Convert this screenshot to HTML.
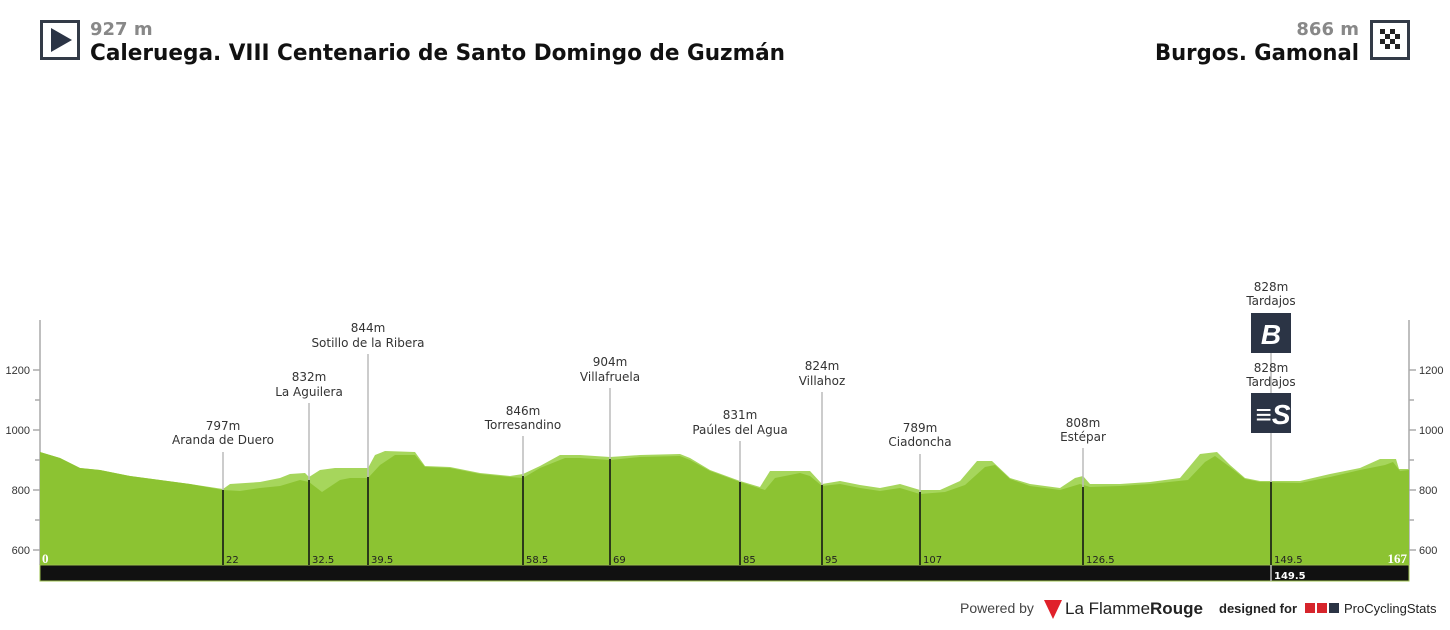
<!DOCTYPE html>
<html><head><meta charset="utf-8"><style>
body{margin:0;width:1450px;height:625px;background:#fff;overflow:hidden;font-family:"Liberation Sans",sans-serif}
</style></head><body>
<svg width="1450" height="625" xmlns="http://www.w3.org/2000/svg" font-family="Liberation Sans, sans-serif">
<!-- header -->
<rect x="41.5" y="21.5" width="37" height="37" fill="#fff" stroke="#333b47" stroke-width="3"/>
<polygon points="51,28 51,52 72,40" fill="#2b3445"/>
<text x="90" y="35" font-size="18" font-weight="bold" fill="#888" font-family="DejaVu Sans, sans-serif">927 m</text>
<text x="90" y="60" font-size="22" font-weight="bold" fill="#111" font-family="DejaVu Sans, sans-serif" textLength="695" lengthAdjust="spacingAndGlyphs">Caleruega. VIII Centenario de Santo Domingo de Guzmán</text>
<text x="1359" y="35" font-size="18" font-weight="bold" fill="#888" text-anchor="end" font-family="DejaVu Sans, sans-serif">866 m</text>
<text x="1155" y="60" font-size="22" font-weight="bold" fill="#111" font-family="DejaVu Sans, sans-serif" textLength="204" lengthAdjust="spacingAndGlyphs">Burgos. Gamonal</text>
<rect x="1371.5" y="21.5" width="37" height="37" fill="#fff" stroke="#333b47" stroke-width="3"/>
<g fill="#222">
<rect x="1380" y="29" width="5" height="5"/><rect x="1390" y="29" width="5" height="5"/>
<rect x="1385" y="34" width="5" height="5"/><rect x="1395" y="34" width="5" height="5"/>
<rect x="1380" y="39" width="5" height="5"/><rect x="1390" y="39" width="5" height="5"/>
<rect x="1385" y="44" width="5" height="5"/><rect x="1395" y="44" width="5" height="5"/>
</g>
<!-- axes -->
<g stroke="#aaa" stroke-width="1.5">
<line x1="40" y1="320" x2="40" y2="565"/><line x1="1409" y1="320" x2="1409" y2="565"/>
<line x1="33" y1="370" x2="40" y2="370"/><line x1="35" y1="400" x2="40" y2="400"/><line x1="33" y1="430" x2="40" y2="430"/><line x1="35" y1="460" x2="40" y2="460"/><line x1="33" y1="490" x2="40" y2="490"/><line x1="35" y1="520" x2="40" y2="520"/><line x1="33" y1="550" x2="40" y2="550"/>
<line x1="1409" y1="370" x2="1416" y2="370"/><line x1="1409" y1="400" x2="1414" y2="400"/><line x1="1409" y1="430" x2="1416" y2="430"/><line x1="1409" y1="460" x2="1414" y2="460"/><line x1="1409" y1="490" x2="1416" y2="490"/><line x1="1409" y1="520" x2="1414" y2="520"/><line x1="1409" y1="550" x2="1416" y2="550"/>
</g>
<g font-size="11" fill="#333">
<text x="30" y="374" text-anchor="end">1200</text><text x="30" y="434" text-anchor="end">1000</text><text x="30" y="494" text-anchor="end">800</text><text x="30" y="554" text-anchor="end">600</text>
<text x="1419" y="374">1200</text><text x="1419" y="434">1000</text><text x="1419" y="494">800</text><text x="1419" y="554">600</text>
</g>
<!-- profile -->
<polygon fill="#a6d65c" points="40,565 40,452 60,458 80,468 100,470 130,476 160,480 190,484 223,489 230,484 260,482 280,478 290,474 305,473 309,477 320,470 335,468 360,468 368,468 375,455 385,451 415,452 425,466 450,467 480,473 510,476 523,474 540,466 560,455 580,455 610,457 640,455 680,454 690,458 710,470 740,481 760,487 770,471 810,471 822,484 840,481 860,485 880,488 900,484 920,490 940,490 960,481 977,461 992,461 1010,478 1030,484 1060,488 1075,478 1083,476 1090,484 1120,484 1150,482 1180,478 1200,454 1217,452 1230,465 1245,478 1260,481 1300,481 1330,474 1360,468 1380,459 1396,459 1399,469 1409,469 1409,565"/>
<polygon fill="#8cc332" points="40,565 40,452 60,458 80,468 100,470 130,476 160,480 190,484 223,490 240,491 260,488 280,486 300,480 309,482 322,492 340,480 350,478 368,478 380,465 395,455 415,455 425,467 450,468 480,474 510,477 523,478 540,468 565,458 580,458 610,460 640,457 680,456 690,460 710,471 740,482 765,490 775,478 800,473 810,476 822,486 840,484 860,488 880,491 900,488 920,494 945,492 965,485 985,467 995,465 1010,479 1030,486 1060,490 1080,484 1090,487 1120,486 1150,484 1188,480 1205,462 1215,456 1230,467 1245,479 1260,482 1300,483 1330,477 1360,470 1385,465 1393,462 1400,471 1409,470 1409,565"/>
<rect x="40" y="565" width="1369" height="16" fill="#111" stroke="#9bc04a" stroke-width="1"/>
<!-- markers -->
<g stroke="#bbb" stroke-width="1.5">
<line x1="223" y1="452" x2="223" y2="490"/><line x1="309" y1="403" x2="309" y2="480"/><line x1="368" y1="354" x2="368" y2="477"/><line x1="523" y1="436" x2="523" y2="476"/><line x1="610" y1="388" x2="610" y2="459"/><line x1="740" y1="441" x2="740" y2="482"/><line x1="822" y1="392" x2="822" y2="485"/><line x1="920" y1="454" x2="920" y2="492"/><line x1="1083" y1="448" x2="1083" y2="487"/><line x1="1271" y1="353" x2="1271" y2="482"/><line x1="1271" y1="565" x2="1271" y2="581"/>
</g>
<g stroke="#2c3a1a" stroke-width="2">
<line x1="223" y1="490" x2="223" y2="565"/><line x1="309" y1="480" x2="309" y2="565"/><line x1="368" y1="477" x2="368" y2="565"/><line x1="523" y1="476" x2="523" y2="565"/><line x1="610" y1="459" x2="610" y2="565"/><line x1="740" y1="482" x2="740" y2="565"/><line x1="822" y1="485" x2="822" y2="565"/><line x1="920" y1="492" x2="920" y2="565"/><line x1="1083" y1="487" x2="1083" y2="565"/><line x1="1271" y1="482" x2="1271" y2="565"/>
</g>
<g font-size="12" fill="#333" text-anchor="middle" font-family="DejaVu Sans, sans-serif">
<text x="223" y="430">797m</text><text x="223" y="444">Aranda de Duero</text>
<text x="309" y="381">832m</text><text x="309" y="396">La Aguilera</text>
<text x="368" y="332">844m</text><text x="368" y="347">Sotillo de la Ribera</text>
<text x="523" y="415">846m</text><text x="523" y="429">Torresandino</text>
<text x="610" y="366">904m</text><text x="610" y="381">Villafruela</text>
<text x="740" y="419">831m</text><text x="740" y="434">Paúles del Agua</text>
<text x="822" y="370">824m</text><text x="822" y="385">Villahoz</text>
<text x="920" y="432">789m</text><text x="920" y="446">Ciadoncha</text>
<text x="1083" y="427">808m</text><text x="1083" y="441">Estépar</text>
<text x="1271" y="291">828m</text><text x="1271" y="305">Tardajos</text>
<text x="1271" y="372">828m</text><text x="1271" y="386">Tardajos</text>
</g>
<rect x="1251" y="313" width="40" height="40" fill="#2b3445"/>
<text x="1271" y="344" font-size="28" font-weight="bold" font-style="italic" fill="#fff" text-anchor="middle">B</text>
<rect x="1251" y="393" width="40" height="40" fill="#2b3445"/>
<text x="1273" y="424" font-size="28" font-weight="bold" font-style="italic" fill="#fff" text-anchor="middle">≡S</text>
<g font-size="10" fill="#222" font-family="DejaVu Sans, sans-serif">
<text x="226" y="563">22</text><text x="312" y="563">32.5</text><text x="371" y="563">39.5</text><text x="526" y="563">58.5</text><text x="613" y="563">69</text><text x="743" y="563">85</text><text x="825" y="563">95</text><text x="923" y="563">107</text><text x="1086" y="563">126.5</text><text x="1274" y="563">149.5</text>
</g>
<text x="42" y="563" font-size="13" font-weight="bold" fill="#fff" font-family="Liberation Serif, serif">0</text>
<text x="1407" y="563" font-size="13" font-weight="bold" fill="#fff" text-anchor="end" font-family="Liberation Serif, serif">167</text>
<text x="1274" y="579" font-size="10" font-weight="bold" fill="#fff" font-family="DejaVu Sans, sans-serif">149.5</text>
<!-- footer -->
<text x="960" y="613" font-size="14" fill="#444">Powered by</text>
<polygon points="1044,600 1062,600 1053,619" fill="#e0202a"/>
<text x="1065" y="614" font-size="17" fill="#222">La Flamme<tspan font-weight="bold">Rouge</tspan></text>
<text x="1219" y="613" font-size="13" font-weight="bold" fill="#222">designed for</text>
<rect x="1305" y="603" width="10" height="10" fill="#d6252c"/><rect x="1317" y="603" width="10" height="10" fill="#d6252c"/><rect x="1329" y="603" width="10" height="10" fill="#2b3445"/>
<text x="1344" y="613" font-size="13" fill="#222">ProCyclingStats</text>
</svg>
</body></html>
